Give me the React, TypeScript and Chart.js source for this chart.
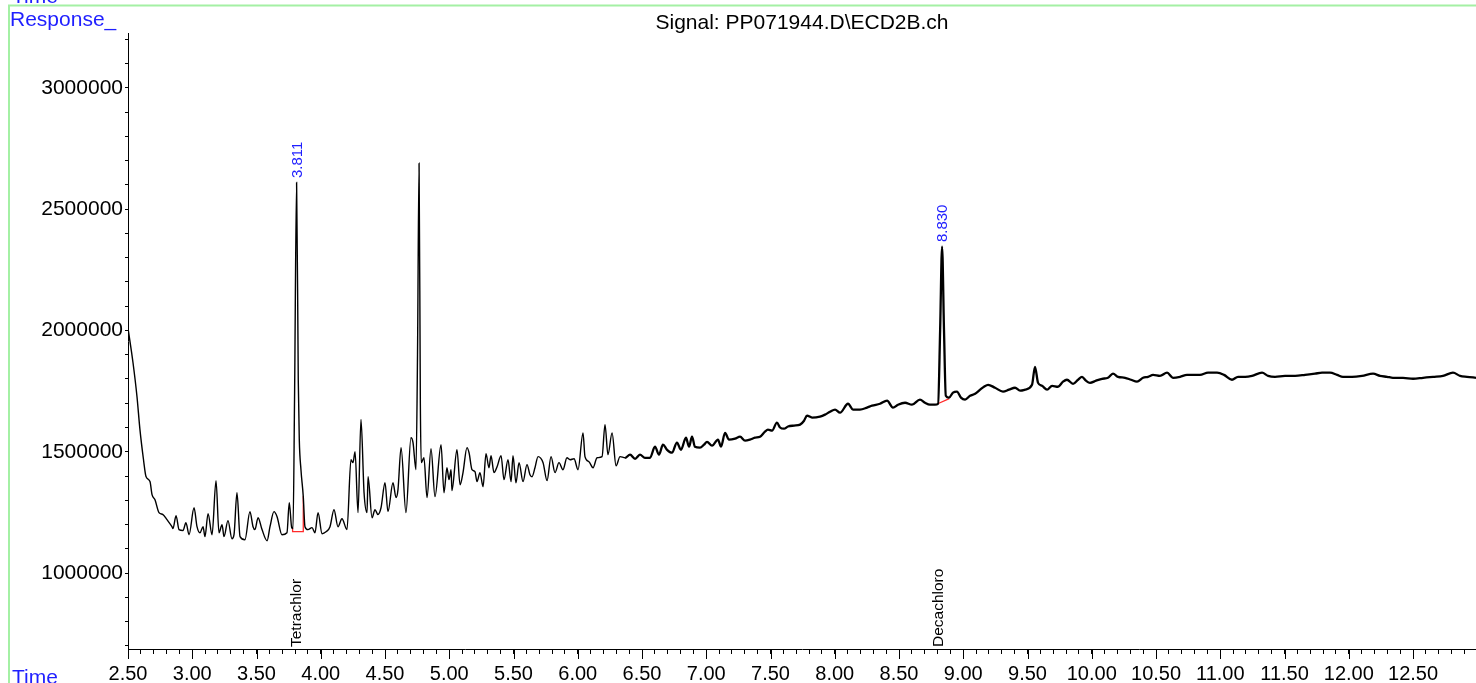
import React, { useEffect, useRef } from 'react';
import { Chart, registerables } from 'chart.js';

Chart.register(...registerables);

// Chromatogram trace: [retention time (min), response (x1000 counts)]
const traceSolventTail: [number, number][] = [
  [2.5, 2010], [2.539, 1867], [2.57, 1727], [2.593, 1591], [2.62, 1470], [2.64, 1398], [2.671, 1377],
  [2.687, 1323], [2.71, 1302], [2.741, 1249], [2.772, 1241], [2.803, 1220], [2.842, 1191], [2.85, 1183],
  [2.874, 1236], [2.897, 1179], [2.928, 1175], [2.951, 1207], [2.975, 1158], [3.014, 1269], [3.037, 1191],
  [3.06, 1166], [3.084, 1191], [3.099, 1150], [3.123, 1245], [3.154, 1158], [3.185, 1381], [3.208, 1166],
  [3.232, 1199], [3.247, 1150], [3.278, 1216], [3.309, 1141], [3.325, 1158], [3.348, 1331], [3.372, 1150],
  [3.41, 1137], [3.449, 1253], [3.473, 1191], [3.488, 1179], [3.512, 1228], [3.543, 1179], [3.582, 1133],
  [3.605, 1191], [3.636, 1253], [3.66, 1232], [3.698, 1158], [3.737, 1166], [3.755, 1290], [3.774, 1187],
  [3.784, 1183],
];

const traceEarlyPeaks: [number, number][] = [
  [3.796, 1715], [3.812, 2610], [3.825, 1797], [3.833, 1550], [3.846, 1426], [3.864, 1315], [3.877, 1191],
  [3.9, 1179], [3.932, 1187], [3.955, 1166], [3.979, 1249], [4.01, 1162], [4.041, 1170], [4.072, 1191],
  [4.103, 1261], [4.134, 1191], [4.165, 1224], [4.204, 1179], [4.235, 1467], [4.251, 1455], [4.267, 1500],
  [4.29, 1249], [4.313, 1633], [4.337, 1331], [4.36, 1249], [4.368, 1397], [4.399, 1228], [4.422, 1261],
  [4.445, 1241], [4.469, 1269], [4.5, 1372], [4.523, 1253], [4.562, 1372], [4.586, 1311], [4.601, 1344],
  [4.625, 1517], [4.663, 1249], [4.702, 1558], [4.718, 1538], [4.741, 1426], [4.753, 1900], [4.765, 2690],
  [4.775, 1700], [4.782, 1455], [4.803, 1475], [4.827, 1311], [4.858, 1513], [4.889, 1315], [4.936, 1529],
  [4.959, 1331], [4.982, 1434], [4.998, 1385], [5.014, 1426], [5.021, 1340], [5.06, 1508], [5.084, 1364],
  [5.107, 1414], [5.138, 1517], [5.154, 1496], [5.177, 1426], [5.2, 1418], [5.216, 1377], [5.239, 1414],
  [5.263, 1356], [5.286, 1492], [5.309, 1434], [5.325, 1484], [5.348, 1414], [5.372, 1438], [5.403, 1484],
  [5.426, 1385], [5.457, 1467], [5.481, 1377], [5.496, 1484], [5.519, 1372], [5.543, 1455], [5.574, 1377],
  [5.605, 1447], [5.628, 1405], [5.644, 1397], [5.667, 1434], [5.691, 1480], [5.73, 1455], [5.761, 1381],
  [5.792, 1480], [5.823, 1414], [5.854, 1455], [5.885, 1426], [5.916, 1475], [5.94, 1467], [5.971, 1471],
  [6.002, 1426], [6.041, 1578], [6.056, 1480], [6.087, 1459], [6.119, 1434], [6.15, 1475], [6.189, 1480],
  [6.212, 1612], [6.235, 1488], [6.267, 1578], [6.298, 1442], [6.329, 1480],
];

const traceRisingBaseline: [number, number][] = [
  [6.368, 1475], [6.407, 1488], [6.446, 1471], [6.484, 1488], [6.523, 1475], [6.562, 1475], [6.601, 1521],
  [6.632, 1488], [6.663, 1529], [6.695, 1508], [6.733, 1496], [6.772, 1538], [6.803, 1508], [6.842, 1558],
  [6.866, 1521], [6.889, 1562], [6.912, 1521], [6.951, 1517], [6.982, 1529], [7.006, 1541], [7.045, 1525],
  [7.091, 1550], [7.115, 1521], [7.146, 1578], [7.177, 1550], [7.224, 1554], [7.263, 1562], [7.302, 1546],
  [7.34, 1550], [7.379, 1558], [7.418, 1562], [7.457, 1583], [7.48, 1591], [7.512, 1587], [7.55, 1620],
  [7.574, 1600], [7.605, 1595], [7.636, 1604], [7.683, 1608], [7.73, 1612], [7.761, 1628], [7.784, 1649],
  [7.823, 1641], [7.885, 1645], [7.924, 1653], [7.963, 1665], [8.002, 1674], [8.041, 1661], [8.103, 1698],
  [8.142, 1674], [8.196, 1674], [8.251, 1682], [8.29, 1690], [8.352, 1698], [8.407, 1711], [8.453, 1682],
  [8.492, 1694], [8.547, 1702], [8.601, 1694], [8.663, 1715], [8.702, 1702], [8.741, 1694], [8.78, 1694],
  [8.804, 1698], [8.82, 2003], [8.835, 2346], [8.85, 2003], [8.864, 1731], [8.889, 1723], [8.92, 1744],
  [8.951, 1748], [8.982, 1723], [9.014, 1715], [9.053, 1731], [9.092, 1739], [9.131, 1756], [9.161, 1768],
  [9.193, 1776], [9.247, 1764], [9.309, 1748], [9.356, 1756], [9.403, 1764], [9.442, 1752], [9.481, 1756],
  [9.535, 1776], [9.558, 1850], [9.582, 1784], [9.613, 1772], [9.652, 1756], [9.691, 1772], [9.737, 1768],
  [9.776, 1789], [9.807, 1797], [9.854, 1780], [9.893, 1797], [9.924, 1809], [9.955, 1793], [9.986, 1784],
];

const tracePlateau: [number, number][] = [
  [10.033, 1793], [10.08, 1801], [10.126, 1805], [10.165, 1822], [10.204, 1809], [10.259, 1805],
  [10.305, 1797], [10.352, 1789], [10.399, 1805], [10.438, 1809], [10.477, 1817], [10.531, 1813],
  [10.586, 1826], [10.632, 1805], [10.687, 1809], [10.741, 1817], [10.803, 1817], [10.842, 1817],
  [10.905, 1826], [10.975, 1826], [11.029, 1817], [11.091, 1797], [11.138, 1809], [11.193, 1809],
  [11.247, 1813], [11.325, 1826], [11.372, 1813], [11.426, 1809], [11.504, 1813], [11.582, 1813],
  [11.66, 1817], [11.737, 1822], [11.792, 1826], [11.854, 1826], [11.909, 1817], [11.955, 1809],
  [12.025, 1809], [12.103, 1813], [12.189, 1822], [12.243, 1813], [12.298, 1809], [12.344, 1805],
  [12.422, 1805], [12.5, 1801], [12.578, 1805], [12.656, 1809], [12.733, 1813], [12.811, 1826],
  [12.866, 1813], [12.92, 1809], [12.99, 1805],
];

// Integration baselines (red)
const baselineTetrachlor: [number, number][] = [[3.781, 1186], [3.781, 1171], [3.864, 1171], [3.864, 1316]];
const baselineDecachloro: [number, number][] = [[8.801, 1698], [8.891, 1719]];

// Annotations
const peakRtLabels = [
  { rt: 3.811, text: '3.811' },
  { rt: 8.83, text: '8.830' },
];
const compoundNames = [
  { rt: 3.81, name: 'Tetrachlor' },
  { rt: 8.805, name: 'Decachloro' },
];

const xMin = 2.5;
const xMax = 12.99;
const yMin = 686600;
const yMax = 3226800;
const xStep = 0.1;
const yStep = 100000;
const yLabelEvery = 500000;
const titleText = 'Signal: PP071944.D\\ECD2B.ch';

const FONT = '"Liberation Sans", Arial, Helvetica, sans-serif';
const BLUE = '#1f1fff';

const toPoints = (arr: [number, number][]) => arr.map(([t, r]) => ({ x: t, y: r * 1000 }));

export default function App() {
  const ref = useRef<HTMLCanvasElement | null>(null);

  useEffect(() => {
    if (!ref.current) return;
    const trace = toPoints([...traceSolventTail, ...traceEarlyPeaks, ...traceRisingBaseline, ...tracePlateau]);

    const decor = {
      id: 'decor',
      afterDraw(chart: any) {
        const { ctx, chartArea } = chart;
        const xs = chart.scales.x;
        const ys = chart.scales.y;
        ctx.save();
        // frame lines
        ctx.strokeStyle = '#a4f0a4';
        ctx.lineWidth = 2;
        ctx.beginPath();
        ctx.moveTo(9, 690);
        ctx.lineTo(9, 5.5);
        ctx.lineTo(1480, 5.5);
        ctx.stroke();

        // headings
        ctx.font = `21px ${FONT}`;
        ctx.textBaseline = 'alphabetic';
        ctx.textAlign = 'left';
        ctx.fillStyle = BLUE;
        ctx.fillText('Time', 12, 3);
        ctx.fillText('Response_', 10, 26);
        ctx.fillText('Time', 12, 684);
        ctx.fillStyle = '#000';
        ctx.textAlign = 'center';
        ctx.fillText(titleText, (chartArea.left + chartArea.right) / 2, 29);

        // major x ticks
        ctx.strokeStyle = '#000';
        ctx.lineWidth = 1;
        ctx.beginPath();
        xs.ticks.forEach((t: any) => {
          if (Math.abs(t.value * 2 - Math.round(t.value * 2)) < 1e-6) {
            const px = Math.round(xs.getPixelForValue(t.value)) + 0.5;
            ctx.moveTo(px, chartArea.bottom);
            ctx.lineTo(px, chartArea.bottom + 10);
          }
        });
        ctx.stroke();

        // retention time labels above apex
        ctx.font = `15px ${FONT}`;
        ctx.fillStyle = BLUE;
        ctx.textAlign = 'left';
        ctx.textBaseline = 'middle';
        peakRtLabels.forEach((p) => {
          let apex = 0;
          trace.forEach((pt) => {
            if (Math.abs(pt.x - p.rt) < 0.02 && pt.y > apex) apex = pt.y;
          });
          const px = xs.getPixelForValue(p.rt);
          const py = ys.getPixelForValue(apex);
          ctx.save();
          ctx.translate(px + 1, py - 4.5);
          ctx.rotate(-Math.PI / 2);
          ctx.fillText(p.text, 0, 0);
          ctx.restore();
        });

        // compound names along the bottom
        ctx.font = `15.5px ${FONT}`;
        ctx.fillStyle = '#000';
        compoundNames.forEach((c) => {
          const px = xs.getPixelForValue(c.rt);
          ctx.save();
          ctx.translate(px + 0.5, chartArea.bottom - 2);
          ctx.rotate(-Math.PI / 2);
          ctx.fillText(c.name, 0, 0);
          ctx.restore();
        });
        ctx.restore();
      },
    };

    const stepTicks = (step: number) => (s: any) => {
      const out: { value: number }[] = [];
      const first = Math.ceil(s.min / step - 1e-9);
      const last = Math.floor(s.max / step + 1e-9);
      for (let k = first; k <= last; k++) out.push({ value: Math.round(k * step * 1e6) / 1e6 });
      s.ticks = out;
    };

    const chart = new Chart(ref.current, {
      type: 'line',
      data: {
        datasets: [
          {
            data: trace,
            borderColor: '#000',
            borderWidth: 1.4,
            pointRadius: 0,
            cubicInterpolationMode: 'monotone',
            segment: {
              borderWidth: (c: any) => (c.p0.parsed.x > 6.35 ? 2.3 : 1.4),
            },
          },
          {
            data: toPoints(baselineTetrachlor),
            borderColor: '#ff2a2a',
            borderWidth: 1.3,
            pointRadius: 0,
            tension: 0,
          },
          {
            data: toPoints(baselineDecachloro),
            borderColor: '#ff2a2a',
            borderWidth: 1.3,
            pointRadius: 0,
            tension: 0,
          },
        ],
      },
      options: {
        responsive: false,
        animation: false,
        parsing: false as any,
        layout: { padding: { top: 33, left: 0, right: 0, bottom: 0 } },
        plugins: { legend: { display: false }, tooltip: { enabled: false }, title: { display: false } },
        scales: {
          x: {
            type: 'linear',
            min: xMin,
            max: xMax,
            afterBuildTicks: stepTicks(xStep),
            afterFit: (s: any) => {
              s.height = 34;
            },
            border: { display: true, color: '#000', width: 1 },
            grid: { display: true, drawOnChartArea: false, drawTicks: true, tickLength: 5, color: '#000' },
            ticks: {
              autoSkip: false,
              maxRotation: 0,
              minRotation: 0,
              padding: 8,
              color: '#000',
              font: { family: FONT, size: 20 },
              callback: (v: any) => {
                const n = Number(v);
                return Math.abs(n * 2 - Math.round(n * 2)) < 1e-6 ? n.toFixed(2) : '';
              },
            },
          },
          y: {
            type: 'linear',
            min: yMin,
            max: yMax,
            afterBuildTicks: stepTicks(yStep),
            afterFit: (s: any) => {
              s.width = 128;
            },
            border: { display: true, color: '#000', width: 1 },
            grid: { display: true, drawOnChartArea: false, drawTicks: true, tickLength: 3, color: '#000' },
            ticks: {
              autoSkip: false,
              padding: 2,
              color: '#000',
              font: { family: FONT, size: 21 },
              callback: (v: any) => {
                const n = Math.round(Number(v));
                return n % yLabelEvery === 0 ? String(n) : '';
              },
            },
          },
        },
      },
      plugins: [decor],
    });
    return () => chart.destroy();
  }, []);

  return (
    <div style={{ position: 'fixed', left: 0, top: 0, width: 1476, height: 683, background: '#fff' }}>
      <canvas ref={ref} width={1476} height={683} style={{ display: 'block' }} />
    </div>
  );
}
